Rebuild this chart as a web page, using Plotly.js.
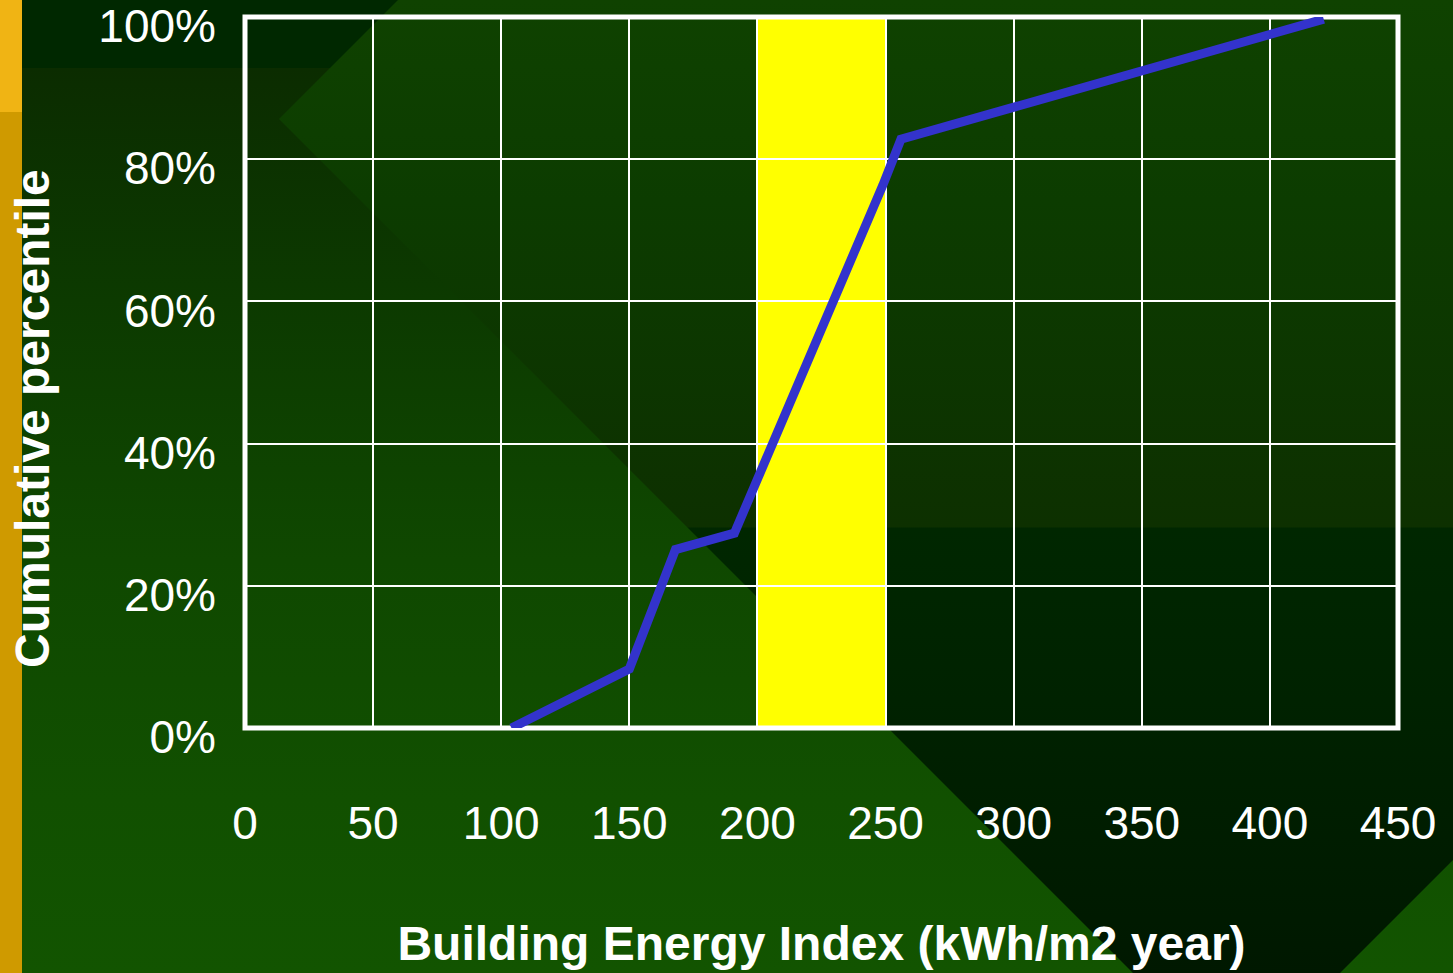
<!DOCTYPE html>
<html>
<head>
<meta charset="utf-8">
<script src="https://cdn.plot.ly/plotly-3.0.1.min.js"></script>
<style>
  html, body { margin: 0; padding: 0; width: 1453px; height: 973px; overflow: hidden; }
  #bg { position: absolute; left: 0; top: 0; width: 1453px; height: 973px;
        background: linear-gradient(to bottom, #002800 0px, #002800 68px, #0b2c00 68px, #0c3a00 300px, #0f4800 560px, #115000 800px, #125400 973px); }
  #tri { position: absolute; left: 0; top: 0; width: 1453px; height: 973px;
         background: linear-gradient(to bottom, #0f4200 0px, #0c3c00 200px, #0d3000 527px, #002700 528px, #002200 700px, #001800 973px);
         clip-path: polygon(398px 0px, 1453px 0px, 1453px 860px, 1340px 973px, 1133px 973px, 279px 119px); }
  #strip1 { position: absolute; left: 0; top: 0; width: 22px; height: 112px; background: #F0B414; }
  #strip2 { position: absolute; left: 0; top: 112px; width: 22px; height: 861px; background: #CF9A00; }
  #chart { position: absolute; left: 0; top: 0; width: 1453px; height: 973px; }
</style>
</head>
<body>
<div id="bg"></div>
<div id="tri"></div>
<div id="strip1"></div>
<div id="strip2"></div>
<div id="chart"></div>
<script>
// Data
const energyIndex = [104, 150, 168, 191, 249, 256, 421];
const cumulativePercentile = [0.0, 0.083, 0.251, 0.274, 0.764, 0.828, 0.997];
const xTickValues = [0, 50, 100, 150, 200, 250, 300, 350, 400, 450];
const yTickValues = [0, 0.2, 0.4, 0.6, 0.8, 1.0];
const bandRange = [200, 250];
const xTitle = 'Building Energy Index (kWh/m2 year)';
const yTitle = 'Cumulative percentile';

const fontFamily = '"Liberation Sans", Arial, sans-serif';

const trace = {
  type: 'scatter',
  mode: 'lines',
  x: energyIndex,
  y: cumulativePercentile,
  line: { color: '#3333CC', width: 9 },
  cliponaxis: false,
  hoverinfo: 'x+y'
};

const layout = {
  width: 1453,
  height: 973,
  margin: { l: 245, r: 55, t: 17, b: 245 },
  paper_bgcolor: 'rgba(0,0,0,0)',
  plot_bgcolor: 'rgba(0,0,0,0)',
  showlegend: false,
  font: { family: fontFamily, color: '#FFFFFF', size: 46 },
  xaxis: {
    range: [0, 450],
    tickvals: xTickValues,
    ticktext: xTickValues.map(String),
    showgrid: true,
    gridcolor: '#FFFFFF',
    gridwidth: 2,
    zeroline: false,
    showline: false,
    ticks: '',
    ticklabelstandoff: 64,
    ticklabeloverflow: 'allow',
    tickfont: { family: fontFamily, size: 46, color: '#FFFFFF' },
    title: { text: xTitle, standoff: 78,
             font: { family: fontFamily, size: 48, color: '#FFFFFF', weight: 'bold' } },
    fixedrange: true
  },
  yaxis: {
    range: [0, 1],
    tickvals: yTickValues,
    tickformat: '.0%',
    showgrid: true,
    gridcolor: '#FFFFFF',
    gridwidth: 2,
    zeroline: false,
    showline: false,
    ticks: '',
    ticklabelstandoff: 28,
    ticklabelshift: 9,
    ticklabeloverflow: 'allow',
    tickfont: { family: fontFamily, size: 46, color: '#FFFFFF' },
    fixedrange: true
  },
  annotations: [
    { text: yTitle, xref: 'paper', yref: 'paper', x: (32 - 245) / 1153, y: (728 - 419) / 711,
      xanchor: 'center', yanchor: 'middle', textangle: -90, showarrow: false,
      font: { family: fontFamily, size: 48, color: '#FFFFFF', weight: 'bold' } }
  ],
  shapes: [
    { type: 'rect', xref: 'x', yref: 'paper', x0: bandRange[0], x1: bandRange[1], y0: 0, y1: 1,
      fillcolor: '#FFFF00', line: { width: 0 }, layer: 'below' },
    { type: 'rect', xref: 'paper', yref: 'paper', x0: 0, x1: 1, y0: 0, y1: 1,
      fillcolor: 'rgba(0,0,0,0)', line: { color: '#FFFFFF', width: 5 }, layer: 'between' }
  ]
};

Plotly.newPlot('chart', [trace], layout, { displayModeBar: false, staticPlot: true });
</script>
</body>
</html>
